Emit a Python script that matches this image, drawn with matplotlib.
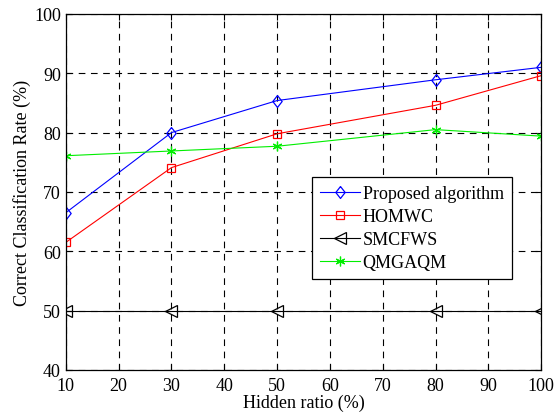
import matplotlib
matplotlib.use('Agg')
import matplotlib.pyplot as plt

hidden_ratio = [10, 30, 50, 80, 100]
proposed = [66.5, 80.0, 85.4, 88.9, 91.0]
homwc = [61.5, 74.1, 79.8, 84.6, 89.6]
smcfws = [50, 50, 50, 50, 50]
qmgaqm = [76.1, 76.9, 77.7, 80.5, 79.4]

plt.rcParams['font.family'] = ['Liberation Serif', 'DejaVu Serif']
plt.rcParams['font.size'] = 13

# MATLAB-like diamond, a bit wider than matplotlib's thin one
diamond = [(0, 1), (0.78, 0), (0, -1), (-0.78, 0), (0, 1)]

fig = plt.figure(figsize=(5.58, 4.14), dpi=100)
ax = fig.add_axes([0.118, 0.104, 0.852, 0.860])

ax.plot(hidden_ratio, proposed, color='blue', lw=0.8, marker=diamond, ms=8.6,
        mfc='none', mec='blue', mew=0.9, label='Proposed algorithm')
ax.plot(hidden_ratio, homwc, color='red', lw=0.8, marker='s', ms=6,
        mfc='none', mec='red', mew=0.9, label='HOMWC')
ax.plot(hidden_ratio, smcfws, color='black', lw=0.8, marker='<', ms=8.5,
        mfc='none', mec='black', mew=0.9, label='SMCFWS')
ax.plot(hidden_ratio, qmgaqm, color='#00ee00', lw=0.8, marker=(6, 2, 0), ms=7,
        mfc='#00ee00', mec='#00ee00', mew=0.9, label='QMGAQM')

ax.set_xlim(10, 100)
ax.set_ylim(40, 100)
ax.set_xticks(range(10, 101, 10))
ax.set_yticks(range(40, 101, 10))
ax.grid(True, color='black', linestyle=(0, (6, 5)), lw=0.8)
ax.tick_params(direction='in', top=True, right=True, length=4)
ax.tick_params(axis='x', pad=5)
for s in ax.spines.values():
    s.set_linewidth(0.9)

ax.set_xlabel('Hidden ratio (%)', labelpad=0)
ax.set_ylabel('Correct Classification Rate (%)', labelpad=2)

leg = ax.legend(loc='upper left', bbox_to_anchor=(0.518, 0.542), fancybox=False,
                framealpha=1, edgecolor='black', borderpad=0.45,
                labelspacing=0.33, handlelength=2.2, handletextpad=0.15,
                borderaxespad=0)
leg.get_frame().set_linewidth(0.9)

fig.savefig('out.png', dpi=100)
